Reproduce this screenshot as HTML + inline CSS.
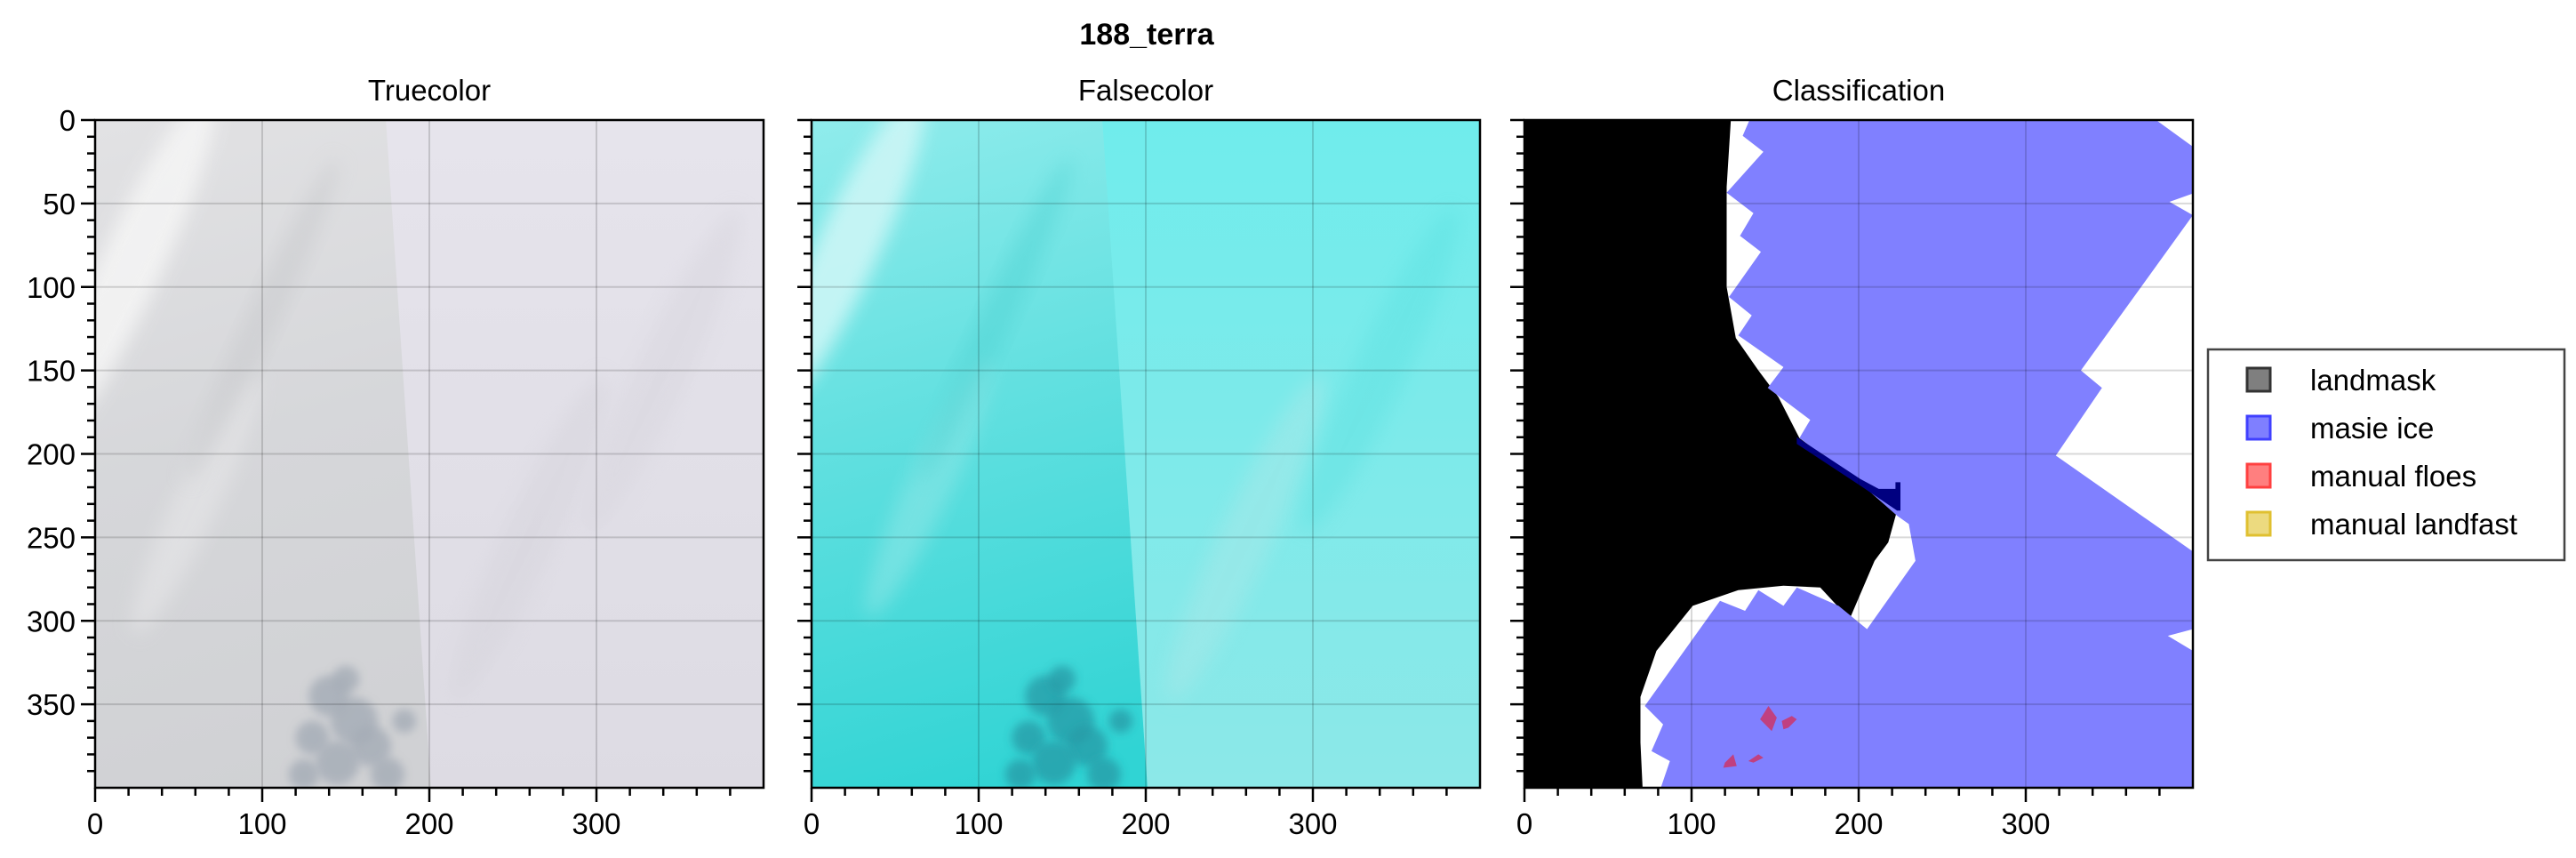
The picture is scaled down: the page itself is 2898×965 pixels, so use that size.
<!DOCTYPE html>
<html><head><meta charset="utf-8">
<style>
body{margin:0;background:#fff;}
svg{display:block;font-family:"Liberation Sans",sans-serif;}
</style></head>
<body>
<svg id="fig" width="2898" height="965" viewBox="0 0 2898 965" xmlns="http://www.w3.org/2000/svg">
<defs>
  <filter id="blur8" x="-30%" y="-30%" width="160%" height="160%"><feGaussianBlur stdDeviation="10"/></filter>
  <filter id="blur4" x="-30%" y="-30%" width="160%" height="160%"><feGaussianBlur stdDeviation="5"/></filter>
  <linearGradient id="tcLeft" x1="0" y1="0" x2="0.3" y2="1">
    <stop offset="0" stop-color="#e2e2e4"/><stop offset="0.5" stop-color="#d6d7da"/><stop offset="1" stop-color="#d0d1d4"/>
  </linearGradient>
  <linearGradient id="tcRight" x1="0" y1="0" x2="0" y2="1">
    <stop offset="0" stop-color="#e6e4ec"/><stop offset="1" stop-color="#dddbe3"/>
  </linearGradient>
  <linearGradient id="fcLeft" x1="0" y1="0" x2="0.3" y2="1">
    <stop offset="0" stop-color="#90ecec"/><stop offset="0.45" stop-color="#62e0e0"/><stop offset="1" stop-color="#30d4d4"/>
  </linearGradient>
  <linearGradient id="fcRight" x1="0" y1="0" x2="0" y2="1">
    <stop offset="0" stop-color="#70ecec"/><stop offset="1" stop-color="#8ce8e8"/>
  </linearGradient>
  <clipPath id="clip1"><rect x="107" y="135" width="752" height="751"/></clipPath>
  <clipPath id="clip2"><rect x="913" y="135" width="752" height="751"/></clipPath>
  <clipPath id="clip3"><rect x="1715" y="135" width="752" height="751"/></clipPath>
</defs>
<text x="1290" y="50" font-size="34" font-weight="bold" text-anchor="middle">188_terra</text>
<g id="panels"></g>
<g id="legend"></g>
</svg>
<script>
// ---- data ----
const panelTitles = ["Truecolor", "Falsecolor", "Classification"];
const xMajorTicks = [0, 100, 200, 300];
const xMinorStep = 20;
const yMajorTicks = [0, 50, 100, 150, 200, 250, 300, 350];
const yMinorStep = 10;
const imageSize = 400;
const seamTop = 174;
const seamBottom = 201;
const landmaskPoly = [[0,0],[123.5,0],[121,40],[121,100],[126.5,130.6],[140,150],[152,166],[164.6,190.5],[201,217.7],[223,234],[217.7,253],[209.5,264],[194.6,299],[177,280],[155,279],[127.9,281.6],[100.7,291],[79,318],[69.4,345.6],[69.4,373],[70.7,400],[0,400]];
const masiePoly = [[134.7,0],[378,0],[400,16],[400,44],[386,49],[400,57],[333,150],[345.6,160.5],[318,201],[400,258.5],[400,305],[385,309],[400,318],[400,400],[81.6,400],[87,384],[76,378],[83,362],[72,351],[117,288],[132,294],[140,281.6],[155,291],[163,280],[188,291],[205,305],[234,264],[230,242],[223,237],[201,217.7],[164.6,190.5],[166,188],[171,179.6],[145.6,160.5],[155,148],[128,129],[136,117],[122.4,106],[141.5,79],[129,69.4],[137,55.8],[121,43.5],[143,19],[130.6,9.5]];
const overlapPoly = [[163,190],[201,215],[212,221],[222,221],[222,217],[225,217],[225,234],[223,234],[201,219],[163,194]];
const floes = [[[146,351],[151,358],[148,366],[141,359]],[[154,360],[160,357],[163,359],[158,364],[155,365]],[[120,385],[125,380],[127,387],[119,388]],[[134,384],[140,380],[143,382],[137,385]]];
const blotches = [[140,345,12],[155,360,14],[130,370,10],[165,375,12],[145,385,13],[125,392,9],[175,392,10],[150,335,8],[185,360,7]];
const legendLabels = ["landmask", "masie ice", "manual floes", "manual landfast"];
const legendFills = ["rgba(0,0,0,0.5)", "rgba(0,0,255,0.5)", "rgba(255,0,0,0.5)", "rgba(218,182,0,0.5)"];
const legendStrokes = ["#333", "#4040ff", "#ff4040", "#e0c030"];

// ---- layout ----
const NS = "http://www.w3.org/2000/svg";
const panelX = [107, 913, 1715];
const panelY = 135, panelW = 752, panelH = 751;
function mk(tag, attrs, parent){const e=document.createElementNS(NS,tag);for(const k in attrs)e.setAttribute(k,attrs[k]);if(parent)parent.appendChild(e);return e;}
function sx(p,v){return panelX[p]+v/imageSize*panelW;}
function sy(v){return panelY+v/imageSize*panelH;}
function pts(p,arr){return arr.map(d=>sx(p,d[0]).toFixed(1)+","+sy(d[1]).toFixed(1)).join(" ");}
function streak(p,g,x,y,rx,ry,fill,op){
  const cx=sx(p,x), cy=sy(y);
  mk("ellipse",{cx:cx,cy:cy,rx:rx,ry:ry,fill:fill,opacity:op,filter:"url(#blur8)",transform:"rotate(25 "+cx+" "+cy+")"},g);
}

const root = document.getElementById("panels");
for(let p=0;p<3;p++){
  const g = mk("g",{},root);
  
  
  const t = mk("text",{x:panelX[p]+panelW/2,y:113,"font-size":33,"text-anchor":"middle"},g);
  t.textContent = panelTitles[p];
  
  
  const img = mk("g",{"clip-path":"url(#clip"+(p+1)+")"},g);
  
  
  const X0=panelX[p];
  const r = [[seamTop,0],[400,0],[400,400],[seamBottom,400]];
  if(p===0){
    mk("rect",{x:X0,y:panelY,width:panelW,height:panelH,fill:"url(#tcLeft)"},img);
    streak(p,img,20,90,35,220,"#f4f4f4",0.9);
    streak(p,img,60,230,25,160,"#e4e4e6",0.7);
    streak(p,img,100,120,18,200,"#c8c9cc",0.5);
    blotches.forEach(b=>mk("circle",{cx:sx(p,b[0]),cy:sy(b[1]),r:b[2]*1.9,fill:"#a4acb6",opacity:0.8,filter:"url(#blur4)"},img));
    mk("polygon",{points:pts(p,r),fill:"url(#tcRight)"},img);
    streak(p,img,260,250,30,200,"#d6d4dc",0.5);
    streak(p,img,340,150,30,200,"#d8d6de",0.5);
  } else if(p===1){
    mk("rect",{x:X0,y:panelY,width:panelW,height:panelH,fill:"url(#fcLeft)"},img);
    streak(p,img,20,80,35,200,"#ccf6f6",0.9);
    streak(p,img,70,220,25,160,"#8ae6e6",0.6);
    streak(p,img,110,120,18,200,"#4cd0d0",0.4);
    blotches.forEach(b=>mk("circle",{cx:sx(p,b[0]),cy:sy(b[1]),r:b[2]*1.9,fill:"#259aa6",opacity:0.75,filter:"url(#blur4)"},img));
    mk("polygon",{points:pts(p,r),fill:"url(#fcRight)"},img);
    streak(p,img,260,250,30,200,"#a8e8e8",0.5);
    streak(p,img,340,150,30,200,"#5ae0e0",0.4);
  } else {
    mk("rect",{x:X0,y:panelY,width:panelW,height:panelH,fill:"#fff"},img);
    const lm = mk("polygon",{points:pts(p,landmaskPoly),fill:"#000"},img);
    
    
    const mi = mk("polygon",{points:pts(p,masiePoly),fill:"#8080ff"},img);
    
    
    const ov = mk("polygon",{points:pts(p,overlapPoly),fill:"#000080"},img);
    
    
    floes.forEach((f,i)=>{
      const fl = mk("polygon",{points:pts(p,f),fill:"#c04080"},img);
      
      
    });
  }
  const grid = mk("g",{stroke:"rgba(0,0,0,0.15)","stroke-width":2},g);
  
  
  xMajorTicks.forEach(v=>{ if(v>0) mk("line",{x1:sx(p,v),x2:sx(p,v),y1:panelY,y2:panelY+panelH},grid); });
  yMajorTicks.forEach(v=>{ if(v>0) mk("line",{x1:X0,x2:X0+panelW,y1:sy(v),y2:sy(v)},grid); });
  const fr = mk("rect",{x:X0,y:panelY,width:panelW,height:panelH,fill:"none",stroke:"#000","stroke-width":2.5},g);
  
  
  const tk = mk("g",{stroke:"#000","stroke-width":2.5},g);
  
  
  for(let v=0; v<imageSize; v+=xMinorStep){
    const major = xMajorTicks.includes(v);
    mk("line",{x1:sx(p,v),x2:sx(p,v),y1:panelY+panelH,y2:panelY+panelH+(major?16:9)},tk);
  }
  for(let v=0; v<imageSize; v+=yMinorStep){
    const major = yMajorTicks.includes(v);
    mk("line",{x1:X0,x2:X0-(major?16:9),y1:sy(v),y2:sy(v)},tk);
  }
  xMajorTicks.forEach(v=>{
    const l = mk("text",{x:sx(p,v),y:panelY+panelH+52,"font-size":33,"text-anchor":"middle"},g);
    l.textContent = v;
    
    
  });
  if(p===0){
    yMajorTicks.forEach(v=>{
      const l = mk("text",{x:X0-22,y:sy(v)+12,"font-size":33,"text-anchor":"end"},g);
      l.textContent = v;
      
      
    });
  }
}

const lg = document.getElementById("legend");
mk("rect",{x:2484,y:393,width:401,height:237,fill:"#fff",stroke:"#444","stroke-width":2.5},lg);
legendLabels.forEach((lab,i)=>{
  const cy = 427 + i*54;
  const e = mk("g",{},lg);
  
  
  mk("rect",{x:2528,y:cy-13,width:26,height:26,fill:legendFills[i],stroke:legendStrokes[i],"stroke-width":3},e);
  const t = mk("text",{x:2599,y:cy+12,"font-size":33},e);
  t.textContent = lab;
});
</script>
</body></html>
